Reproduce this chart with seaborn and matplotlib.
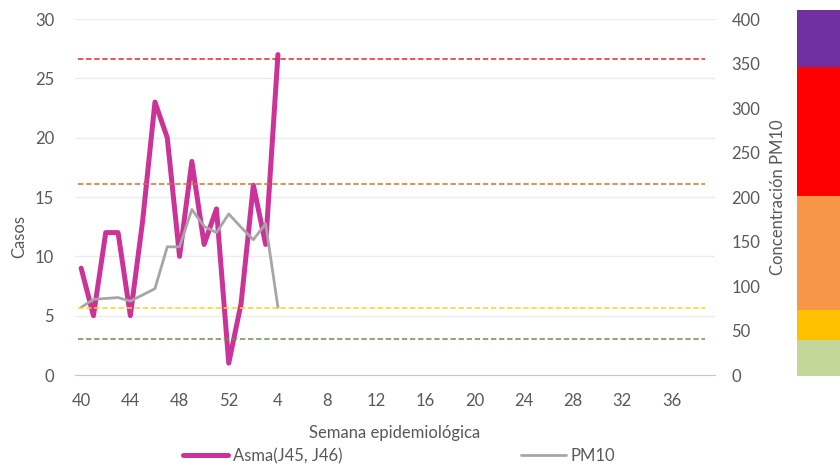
import numpy as np
import pandas as pd
import matplotlib
matplotlib.use("Agg")
import matplotlib.pyplot as plt
import seaborn as sns
from matplotlib.lines import Line2D

# ---- data ----
weeks = ["40", "41", "42", "43", "44", "45", "46", "47", "48", "49", "50",
         "51", "52", "1", "2", "3", "4"]
asma = [9, 5, 12, 12, 5, 13, 23, 20, 10, 18, 11, 14, 1, 6, 16, 11, 27]
pm10 = [76, 85, 86, 87, 83, 90, 97, 144, 144, 186, 167, 160, 181, 166, 152, 170, 76]
tick_labels = ["40", "44", "48", "52", "4", "8", "12", "16", "20", "24",
               "28", "32", "36"]
n_weeks = 52
thresholds = [355, 215, 75, 40]
threshold_colors = ["#E8262C", "#D2702E", "#FFD21F", "#6E8C4E"]
band_edges = [0, 40, 74, 202, 346, 410]
band_colors = ["#C4D79B", "#FFC000", "#F79646", "#FF0000", "#7030A0"]

PINK = "#CC3399"
GRAY = "#A6A6A6"
TXT = "#595959"

sns.set_style("white")
plt.rcParams["font.family"] = ["Lato", "DejaVu Sans"]

df = pd.DataFrame({"week": weeks, "asma": asma, "pm10": pm10})
df["pos"] = np.arange(len(df))

W, H = 840, 469
fig = plt.figure(figsize=(W / 100, H / 100), dpi=100)
ax = fig.add_axes([75 / W, 94 / H, 639.6 / W, 356 / H])

ax.set_xlim(-0.5, n_weeks - 0.5)
ax.set_ylim(0, 30)
ax.set_yticks(np.arange(0, 31, 5))
ax.set_xticks(np.arange(0, n_weeks, 4))
ax.set_xticklabels(tick_labels)
ax.yaxis.grid(True, color="#EBEBEB", lw=1)
ax.set_axisbelow(True)
for s in ["top", "left", "right"]:
    ax.spines[s].set_visible(False)
ax.spines["bottom"].set_color("#C8C8C8")
ax.tick_params(axis="both", length=0, colors=TXT, labelsize=12)
ax.tick_params(axis="x", pad=13)
ax.tick_params(axis="y", pad=15)

sns.lineplot(data=df, x="pos", y="asma", ax=ax, color=PINK, lw=3.6,
             legend=False, zorder=3)

ax2 = ax.twinx()
ax2.set_ylim(0, 400)
ax2.set_yticks(np.arange(0, 401, 50))
for s in ax2.spines.values():
    s.set_visible(False)
ax2.tick_params(axis="y", length=0, colors=TXT, labelsize=12, pad=12)

sns.lineplot(data=df, x="pos", y="pm10", ax=ax2, color=GRAY, lw=2,
             legend=False, zorder=3)
for v, c in zip(thresholds, threshold_colors):
    ax2.axhline(v, xmin=0.005, xmax=0.985, color=c, lw=1.1,
                dashes=(3.5, 1.8), zorder=4)

ax.set_xlabel("Semana epidemiológica", fontsize=12, color=TXT)
ax.xaxis.set_label_coords(0.5, -0.14)
ax.set_ylabel("Casos", fontsize=12, color=TXT)
ax.yaxis.set_label_coords(-0.075, 0.388)
ax2.set_ylabel("Concentración PM10", fontsize=12, color=TXT)
ax2.yaxis.set_label_coords(1.0866, 0.5)

# colour scale strip on the right
cax = fig.add_axes([797 / W, 93 / H, 43 / W, 366 / H])
heights = np.diff(band_edges)
cax.bar([0] * len(band_colors), heights, bottom=band_edges[:-1], width=1,
        color=band_colors, linewidth=0)
cax.set_xlim(-0.5, 0.5)
cax.set_ylim(band_edges[0], band_edges[-1])
cax.axis("off")

handles = [Line2D([], [], color=PINK, lw=3.6), Line2D([], [], color=GRAY, lw=2)]
fig.legend(handles, ["Asma(J45, J46)", "PM10"], loc="center",
           bbox_to_anchor=(399 / W, 13 / H), ncol=2, frameon=False,
           handlelength=2.7, handletextpad=0.3, columnspacing=10.7,
           fontsize=12, labelcolor=TXT)

fig.savefig("out.png", dpi=100)
